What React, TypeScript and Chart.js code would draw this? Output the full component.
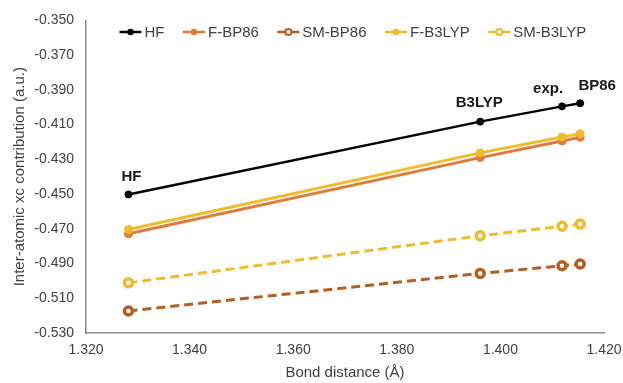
import React, { useEffect, useRef } from 'react';
import { Chart, registerables } from 'chart.js';

Chart.register(...registerables);

// ---- data ----
const bondDistances = [1.3282, 1.3961, 1.4119, 1.4154];
const geometryLabels = ['HF', 'B3LYP', 'exp.', 'BP86'];
const hfValues = [-0.4502, -0.4083, -0.3995, -0.3977];
const fBP86Values = [-0.4729, -0.429, -0.4194, -0.4173];
const smBP86Values = [-0.5173, -0.4957, -0.4913, -0.4903];
const fB3LYPValues = [-0.4704, -0.4263, -0.4171, -0.4152];
const smB3LYPValues = [-0.5011, -0.474, -0.4685, -0.4673];
const xTicks = [1.32, 1.34, 1.36, 1.38, 1.4, 1.42];
const yTicks = [-0.53, -0.51, -0.49, -0.47, -0.45, -0.43, -0.41, -0.39, -0.37, -0.35];

// ---- styles ----
const FONT = "'Liberation Sans', Arial, sans-serif";
const TEXT = '#404040';
const BLACK = '#000000';
const ORANGE = '#E07B39';
const BROWN = '#B65E1F';
const GOLD = '#F0BB2D';
const labelOffsets = [
  [3, -18],
  [-1, -19],
  [-14, -18],
  [17, -17],
];

type SeriesDef = { label: string; values: number[]; color: string; open: boolean; dashed: boolean; width: number; radius: number };
const series: SeriesDef[] = [
  { label: 'HF', values: hfValues, color: BLACK, open: false, dashed: false, width: 2.5, radius: 3.5 },
  { label: 'F-BP86', values: fBP86Values, color: ORANGE, open: false, dashed: false, width: 3, radius: 4 },
  { label: 'SM-BP86', values: smBP86Values, color: BROWN, open: true, dashed: true, width: 3, radius: 4 },
  { label: 'F-B3LYP', values: fB3LYPValues, color: GOLD, open: false, dashed: false, width: 3, radius: 4 },
  { label: 'SM-B3LYP', values: smB3LYPValues, color: GOLD, open: true, dashed: true, width: 3, radius: 4 },
];

const legendPlugin = {
  id: 'customLegend',
  afterDraw(chart: any) {
    const ctx = chart.ctx as CanvasRenderingContext2D;
    ctx.save();
    let x = 119.5;
    const y = 32;
    ctx.font = `15px ${FONT}`;
    ctx.textBaseline = 'middle';
    ctx.textAlign = 'left';
    for (const s of series) {
      ctx.strokeStyle = s.color;
      ctx.lineWidth = 2.5;
      ctx.setLineDash([]);
      ctx.beginPath();
      ctx.moveTo(x, y);
      ctx.lineTo(x + 22, y);
      ctx.stroke();
      ctx.beginPath();
      ctx.arc(x + 11, y, s.open ? 3 : 3.2, 0, Math.PI * 2);
      if (s.open) {
        ctx.fillStyle = '#ffffff';
        ctx.fill();
        ctx.lineWidth = 2;
        ctx.stroke();
      } else {
        ctx.fillStyle = s.color;
        ctx.fill();
      }
      ctx.fillStyle = TEXT;
      ctx.fillText(s.label, x + 25, y + 0.5);
      x += 25 + ctx.measureText(s.label).width + 18.5;
    }
    ctx.restore();
  },
};

const annotationPlugin = {
  id: 'geometryLabels',
  afterDatasetsDraw(chart: any) {
    const ctx = chart.ctx as CanvasRenderingContext2D;
    const xs = chart.scales.x;
    const ys = chart.scales.y;
    ctx.save();
    ctx.font = `bold 15px ${FONT}`;
    ctx.fillStyle = '#1a1a1a';
    ctx.textAlign = 'center';
    ctx.textBaseline = 'middle';
    geometryLabels.forEach((lab, i) => {
      const px = xs.getPixelForValue(bondDistances[i]) + labelOffsets[i][0];
      const py = ys.getPixelForValue(hfValues[i]) + labelOffsets[i][1];
      ctx.fillText(lab, px, py);
    });
    ctx.restore();
  },
};

export default function App() {
  const ref = useRef<HTMLCanvasElement | null>(null);
  useEffect(() => {
    if (!ref.current) return;
    const n = series.length;
    const chart = new Chart(ref.current, {
      type: 'line',
      data: {
        datasets: series.map((s, i) => ({
          label: s.label,
          data: s.values.map((v, j) => ({ x: bondDistances[j], y: v })),
          borderColor: s.color,
          backgroundColor: s.color,
          borderWidth: s.width,
          borderDash: s.dashed ? [9, 5] : [],
          pointRadius: s.radius,
          pointBorderWidth: s.open ? 3.5 : 1,
          pointBorderColor: s.color,
          pointBackgroundColor: s.open ? '#ffffff' : s.color,
          fill: false,
          tension: 0,
          order: n - i,
        })),
      },
      options: {
        animation: false,
        responsive: false,
        layout: { padding: { left: 0, top: 20, right: 19, bottom: 0 } },
        plugins: { legend: { display: false }, tooltip: { enabled: false } },
        scales: {
          x: {
            type: 'linear',
            min: 1.32,
            max: 1.42,
            grid: { display: false, drawTicks: false },
            border: { display: true, color: '#8a8a8a', width: 1.5 },
            afterBuildTicks: (s: any) => {
              s.ticks = xTicks.map((v) => ({ value: v }));
            },
            afterFit: (s: any) => {
              s.height = 50;
              s.paddingRight = 0;
              s.paddingLeft = 0;
            },
            ticks: {
              padding: 9,
              color: TEXT,
              font: { family: FONT, size: 14 },
              maxRotation: 0,
              callback: (v: any) => Number(v).toFixed(3),
            },
            title: {
              display: true,
              text: 'Bond distance (Å)',
              color: TEXT,
              font: { family: FONT, size: 15 },
              padding: { top: 0, bottom: 1 },
            },
          },
          y: {
            type: 'linear',
            min: -0.53,
            max: -0.35,
            grid: { display: false, drawTicks: false },
            border: { display: true, color: '#8a8a8a', width: 1.5 },
            afterBuildTicks: (s: any) => {
              s.ticks = yTicks.map((v) => ({ value: v }));
            },
            afterFit: (s: any) => {
              s.width = 86;
            },
            ticks: {
              padding: 12,
              color: TEXT,
              font: { family: FONT, size: 14 },
              callback: (v: any) => Number(v).toFixed(3),
            },
            title: {
              display: true,
              text: 'Inter-atomic xc contribution (a.u.)',
              color: TEXT,
              font: { family: FONT, size: 15 },
              padding: { top: 11, bottom: 0 },
            },
          },
        },
      },
      plugins: [legendPlugin, annotationPlugin],
    } as any);
    return () => chart.destroy();
  }, []);
  return (
    <div style={{ position: 'absolute', left: 0, top: 0, width: 623, height: 383, background: '#fff' }}>
      <canvas ref={ref} width={623} height={383} style={{ display: 'block' }} />
    </div>
  );
}
